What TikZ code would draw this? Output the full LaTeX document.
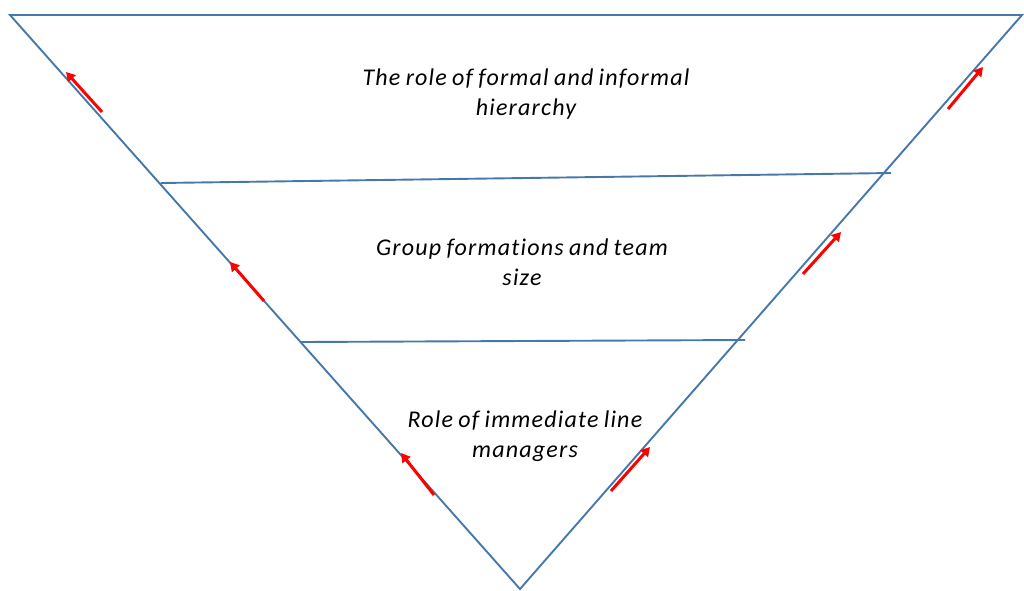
\documentclass[tikz,border=0pt]{standalone}
\usepackage{fontspec}
\setmainfont{Carlito}
\newfontfamily\lblfont[LetterSpace=5,WordSpace=0.8,Ligatures=NoCommon]{Carlito}
\usetikzlibrary{arrows.meta}
\definecolor{edgeblue}{RGB}{70,120,170}
\begin{document}
\begin{tikzpicture}[x=1pt,y=-1pt,
  edge/.style={draw=edgeblue,line width=1.9pt},
  redarrow/.style={draw=red,line width=3pt,-{Triangle[length=9pt,width=10pt]}},
  label/.style={font=\lblfont\itshape\fontsize{24}{30}\selectfont,align=center,inner sep=0pt}]
\useasboundingbox (0,0) rectangle (1024,590);
\coordinate (TL) at (10,15);
\coordinate (TR) at (1022,15);
\coordinate (A) at (520,589);
\coordinate (L1) at (161,183);
\coordinate (R1) at (891,173);
\coordinate (L2) at (301,342);
\coordinate (R2) at (745,340);
\draw[edge] (TL) -- (TR) -- (A) -- cycle;
\draw[edge] (L1) -- (R1);
\draw[edge] (L2) -- (R2);
% arrows
\coordinate (a1s) at (102,112); \coordinate (a1e) at (66,72);
\coordinate (a2s) at (264,301); \coordinate (a2e) at (230,262);
\coordinate (a3s) at (434,495); \coordinate (a3e) at (401,453);
\coordinate (b1s) at (948,109); \coordinate (b1e) at (983,67);
\coordinate (b2s) at (803,274); \coordinate (b2e) at (841,232);
\coordinate (b3s) at (611,491); \coordinate (b3e) at (650,447);
\draw[redarrow] (a1s) -- (a1e);
\draw[redarrow] (a2s) -- (a2e);
\draw[redarrow] (a3s) -- (a3e);
\draw[redarrow] (b1s) -- (b1e);
\draw[redarrow] (b2s) -- (b2e);
\draw[redarrow] (b3s) -- (b3e);
\node[label] (t1) at (526,94) {The role of formal and informal\\hierarchy};
\node[label] (t2) at (522,262) {Group formations and team\\size};
\node[label] (t3) at (525,436) {Role of immediate line\\managers};
\end{tikzpicture}
\end{document}
